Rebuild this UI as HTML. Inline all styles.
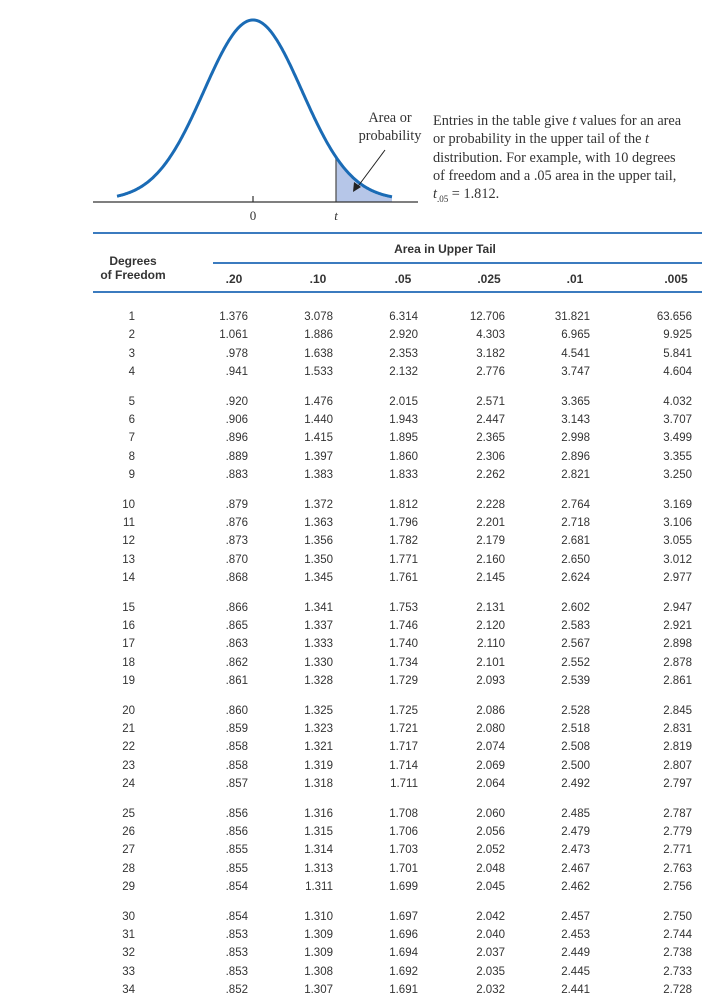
<!DOCTYPE html>
<html><head><meta charset="utf-8">
<style>
body{margin:0;width:724px;height:1007px;background:#fff;position:relative;overflow:hidden;font-family:"Liberation Sans",sans-serif;color:#333}
.t{position:absolute;font-size:11.5px;line-height:14px;white-space:nowrap}
.h{position:absolute;font-size:12px;font-weight:bold;color:#333;white-space:nowrap;line-height:14px}
.s{font-family:"Liberation Serif",serif;font-size:14.3px;color:#333;position:absolute;white-space:nowrap;line-height:18.3px}
.rule{position:absolute;height:2px;background:#3b7bbf}
</style></head><body>
<svg width="724" height="230" style="position:absolute;left:0;top:0">
 <path id="shade" fill="#b6c6e8" stroke="none"/>
 <line x1="336" x2="336" y1="160" y2="202" stroke="#555" stroke-width="1.3" id="tline"/>
 <line x1="93" x2="418" y1="202" y2="202" stroke="#333" stroke-width="1.2"/>
 <line x1="253" x2="253" y1="196" y2="202" stroke="#333" stroke-width="1.2"/>
 <path id="curve" fill="none" stroke="#1a6bb5" stroke-width="3"/>
 <line x1="385" y1="150" x2="356" y2="189" stroke="#222" stroke-width="1"/>
 <polygon points="353,192 354,182 361,187" fill="#222"/>
 <text x="253" y="220" text-anchor="middle" font-family="Liberation Serif" font-size="13" fill="#333">0</text>
 <text x="336" y="220" text-anchor="middle" font-family="Liberation Serif" font-style="italic" font-size="13" fill="#333">t</text>
</svg>
<div class="s" style="left:350px;top:109px;width:80px;text-align:center">Area or<br>probability</div>
<div class="s" style="left:433px;top:112px">Entries in the table give <i>t</i> values for an area<br>or probability in the upper tail of the <i>t</i><br>distribution. For example, with 10 degrees<br>of freedom and a .05 area in the upper tail,<br><i>t</i><sub style="font-size:9px">.05</sub> = 1.812.</div>

<div class="rule" style="left:93px;top:232px;width:609px"></div>
<div class="h" style="left:330px;top:242px;width:230px;text-align:center">Area in Upper Tail</div>
<div class="rule" style="left:213px;top:262px;width:489px;height:1.5px"></div>
<div class="h" style="left:93px;top:254px;width:80px;text-align:center">Degrees<br>of Freedom</div>
<div class="rule" style="left:93px;top:291px;width:609px"></div>
<div id="tbl"></div>
<script>
const cols=[".20",".10",".05",".025",".01",".005"];
const df=[1,2,3,4,5,6,7,8,9,10,11,12,13,14,15,16,17,18,19,20,21,22,23,24,25,26,27,28,29,30,31,32,33,34];
const c20=["1.376","1.061",".978",".941",".920",".906",".896",".889",".883",".879",".876",".873",".870",".868",".866",".865",".863",".862",".861",".860",".859",".858",".858",".857",".856",".856",".855",".855",".854",".854",".853",".853",".853",".852"];
const c10=["3.078","1.886","1.638","1.533","1.476","1.440","1.415","1.397","1.383","1.372","1.363","1.356","1.350","1.345","1.341","1.337","1.333","1.330","1.328","1.325","1.323","1.321","1.319","1.318","1.316","1.315","1.314","1.313","1.311","1.310","1.309","1.309","1.308","1.307"];
const c05=["6.314","2.920","2.353","2.132","2.015","1.943","1.895","1.860","1.833","1.812","1.796","1.782","1.771","1.761","1.753","1.746","1.740","1.734","1.729","1.725","1.721","1.717","1.714","1.711","1.708","1.706","1.703","1.701","1.699","1.697","1.696","1.694","1.692","1.691"];
const c025=["12.706","4.303","3.182","2.776","2.571","2.447","2.365","2.306","2.262","2.228","2.201","2.179","2.160","2.145","2.131","2.120","2.110","2.101","2.093","2.086","2.080","2.074","2.069","2.064","2.060","2.056","2.052","2.048","2.045","2.042","2.040","2.037","2.035","2.032"];
const c01=["31.821","6.965","4.541","3.747","3.365","3.143","2.998","2.896","2.821","2.764","2.718","2.681","2.650","2.624","2.602","2.583","2.567","2.552","2.539","2.528","2.518","2.508","2.500","2.492","2.485","2.479","2.473","2.467","2.462","2.457","2.453","2.449","2.445","2.441"];
const c005=["63.656","9.925","5.841","4.604","4.032","3.707","3.499","3.355","3.250","3.169","3.106","3.055","3.012","2.977","2.947","2.921","2.898","2.878","2.861","2.845","2.831","2.819","2.807","2.797","2.787","2.779","2.771","2.763","2.756","2.750","2.744","2.738","2.733","2.728"];
const colsData=[c20,c10,c05,c025,c01,c005];
const rightX=[248,333,418,505,590,692];
const headX=[234,318,403,489,575,676];
const tbl=document.getElementById('tbl');
function rowY(i){const d=df[i];const g=d<5?0:Math.floor(d/5);return 310+(d-1)*18.4+g*11;}
function put(txt,x,y,align,cls){const e=document.createElement('div');e.className=cls;e.textContent=txt;
 if(align==='r'){e.style.right=(724-x)+'px';}else{e.style.left=(x-40)+'px';e.style.width='80px';e.style.textAlign='center';}
 e.style.top=y+'px';tbl.appendChild(e);return e;}
cols.forEach((c,j)=>{const e=put(c,headX[j],272,'c','h');

});
df.forEach((d,i)=>{const y=rowY(i);
 const e=put(String(d),135,y,'r','t');
 
 
 colsData.forEach((arr,j)=>{const c=put(arr[i],rightX[j],y,'r','t');
 
 });
});
const cx=253,base=200,peak=180,sig=49;
const Y=x=>base-peak*Math.exp(-Math.pow((x-cx)/sig,2)/2);
let p="";for(let x=117;x<=392;x+=1)p+=(x===117?"M":"L")+x+","+Y(x).toFixed(1);
document.getElementById('curve').setAttribute('d',p);
let s="M336,202";for(let x=336;x<=392;x++)s+="L"+x+","+Y(x).toFixed(1);s+="L392,202Z";
document.getElementById('shade').setAttribute('d',s);
document.getElementById('tline').setAttribute('y1',Y(336));
</script>
</body></html>
